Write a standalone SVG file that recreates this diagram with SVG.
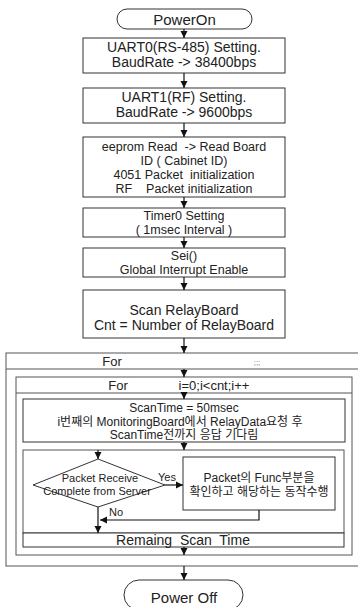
<svg xmlns="http://www.w3.org/2000/svg" width="358" height="607" viewBox="0 0 358 607">
<defs>
<marker id="ah" markerWidth="8" markerHeight="8" refX="7" refY="4" orient="auto" markerUnits="userSpaceOnUse">
<path d="M0,0.5 L7,4 L0,7.5 Z" fill="#111"/>
</marker>
<style>
.b{fill:#fff;stroke:#333;stroke-width:1}
.o{fill:none;stroke:#555;stroke-width:1}
.t{font-family:"Liberation Sans",Arial,sans-serif;font-size:14px;fill:#222;text-anchor:middle;white-space:pre}
.m{font-size:12.5px}
.s{font-size:12px}
.d{font-size:11px}
.k{font-family:"Liberation Sans","Noto Sans CJK KR",sans-serif}
.c{fill:none;stroke:#111;stroke-width:1.2}
</style>
</defs>
<rect width="358" height="607" fill="#fff"/>

<g id="loop-outer">
<rect class="o" x="6" y="353" width="360" height="213"/>
<line class="o" x1="6" y1="369" x2="358" y2="369"/>
<text class="t" x="112" y="366" style="font-size:13px">For</text>
<text class="t" x="257" y="365" style="font-size:8px;fill:#777">;;;</text>
</g>
<g id="loop-inner">
<rect class="o" x="16" y="377" width="336" height="178"/>
<line class="o" x1="16" y1="393" x2="352" y2="393"/>
<text class="t" x="118" y="390" style="font-size:13px">For</text>
<text class="t" x="214" y="390" style="font-size:13px">i=0;i&lt;cnt;i++</text>
</g>

<g id="power-on">
<rect class="b" x="117" y="9" width="135" height="20" rx="10"/>
<text class="t" x="184.5" y="25" style="font-size:15px">PowerOn</text>
</g>
<g id="uart0">
<rect class="b" x="83" y="38" width="202" height="35"/>
<text class="t" x="184" y="52">UART0(RS-485) Setting.</text>
<text class="t" x="184" y="67">BaudRate -&gt; 38400bps</text>
</g>
<g id="uart1">
<rect class="b" x="83" y="88" width="202" height="35"/>
<text class="t" x="184" y="102">UART1(RF) Setting.</text>
<text class="t" x="184" y="117">BaudRate -&gt; 9600bps</text>
</g>
<g id="eeprom">
<rect class="b" x="83" y="137" width="202" height="60"/>
<text class="t m" x="184" y="150.5">eeprom Read  -&gt; Read Board</text>
<text class="t m" x="184" y="164.5">ID ( Cabinet ID)</text>
<text class="t m" x="184" y="178.5">4051 Packet  initialization</text>
<text class="t m" x="184" y="192.5">RF    Packet initialization</text>
</g>
<g id="timer0">
<rect class="b" x="83" y="208" width="202" height="29"/>
<text class="t m" x="184" y="220">Timer0 Setting</text>
<text class="t m" x="184" y="234">( 1msec Interval )</text>
</g>
<g id="sei">
<rect class="b" x="83" y="248" width="202" height="29"/>
<text class="t m" x="184" y="260">Sei()</text>
<text class="t m" x="184" y="274">Global Interrupt Enable</text>
</g>
<g id="scan">
<rect class="b" x="83" y="290" width="202" height="48"/>
<text class="t" x="184" y="315">Scan RelayBoard</text>
<text class="t" x="184" y="330">Cnt = Number of RelayBoard</text>
</g>
<g id="scantime">
<rect class="b" x="23" y="399" width="322" height="43"/>
<text class="t s" x="184" y="412">ScanTime = 50msec</text>
<text class="t s k" x="180" y="426">i번째의 MonitoringBoard에서 RelayData요청 후</text>
<text class="t s k" x="184" y="439">ScanTime전까지 응답 기다림</text>
</g>
<g id="body">
<rect class="o" x="23" y="450" width="321" height="83"/>
</g>
<g id="decision">
<path class="b" d="M98,459 L165,485 L98,507 L33,485 Z"/>
<text class="t d" x="100" y="482">Packet Receive</text>
<text class="t d" x="97" y="495">Complete from Server</text>
</g>
<g id="func">
<rect class="b" x="183" y="457" width="152" height="53"/>
<text class="t s k" x="259" y="482">Packet의 Func부분을</text>
<text class="t s k" x="259" y="496">확인하고 해당하는 동작수행</text>
</g>
<g id="remain">
<rect class="b" x="23" y="533" width="321" height="14"/>
<text class="t" x="183" y="544.5">Remaing  Scan  Time</text>
</g>
<g id="power-off">
<rect class="b" x="124" y="580" width="119" height="30" rx="15"/>
<text class="t" x="184" y="603" style="font-size:15px">Power Off</text>
</g>

<g id="connectors">
<line class="c" x1="184" y1="29" x2="184" y2="38" marker-end="url(#ah)"/>
<line class="c" x1="184" y1="73" x2="184" y2="88" marker-end="url(#ah)"/>
<line class="c" x1="184" y1="123" x2="184" y2="137" marker-end="url(#ah)"/>
<line class="c" x1="184" y1="197" x2="184" y2="208" marker-end="url(#ah)"/>
<line class="c" x1="184" y1="237" x2="184" y2="248" marker-end="url(#ah)"/>
<line class="c" x1="184" y1="277" x2="184" y2="290" marker-end="url(#ah)"/>
<line class="c" x1="184" y1="338" x2="184" y2="353" marker-end="url(#ah)"/>
<line class="c" x1="184" y1="369" x2="184" y2="377" marker-end="url(#ah)"/>
<line class="c" x1="184" y1="393" x2="184" y2="399" marker-end="url(#ah)"/>
<line class="c" x1="184" y1="442" x2="184" y2="450" marker-end="url(#ah)"/>
<line class="c" x1="98" y1="450" x2="98" y2="459" marker-end="url(#ah)"/>
<line class="c" x1="165" y1="485" x2="183" y2="485" marker-end="url(#ah)"/>
<polyline class="c" points="259,510 259,520 100,520" marker-end="url(#ah)"/>
<line class="c" x1="98" y1="507" x2="98" y2="533" marker-end="url(#ah)"/>
<line class="c" x1="184" y1="547" x2="184" y2="555" marker-end="url(#ah)"/>
<line class="c" x1="184" y1="566" x2="184" y2="580" marker-end="url(#ah)"/>
<text class="t d" x="167" y="481">Yes</text>
<text class="t d" x="116" y="516">No</text>
</g>
</svg>
